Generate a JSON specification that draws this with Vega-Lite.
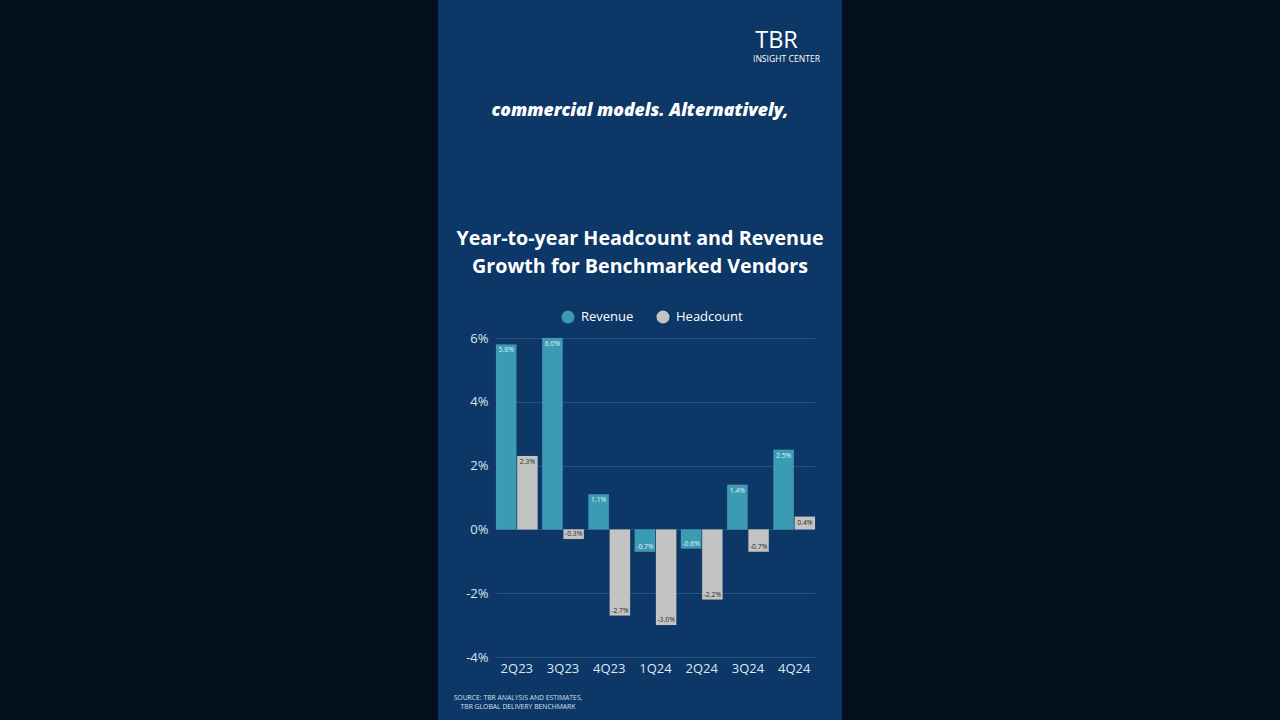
{
  "$schema": "https://vega.github.io/schema/vega-lite/v6.json",
  "width": 404,
  "height": 720,
  "autosize": {"type": "none"},
  "padding": {"left": 438, "top": 0, "right": 438, "bottom": 0},
  "background": "#03101e",
  "view": {"fill": "#0c3766", "stroke": null},
  "config": {
    "font": "Open Sans",
    "locale": {"number": {"decimal": ".", "thousands": ",", "grouping": [3], "currency": ["$", ""], "minus": "-"}}
  },
  "title": {
    "text": "commercial models. Alternatively,",
    "subtitle": ["Year-to-year Headcount and Revenue", "Growth for Benchmarked Vendors"],
    "anchor": "middle",
    "orient": "top",
    "frame": "group",
    "offset": -277,
    "font": "Open Sans",
    "fontSize": 17.6,
    "fontStyle": "italic",
    "fontWeight": 800,
    "color": "#ffffff",
    "subtitleFont": "Open Sans",
    "subtitleFontSize": 19.7,
    "subtitleFontWeight": "bold",
    "subtitleColor": "#ffffff",
    "subtitleLineHeight": 28,
    "subtitlePadding": 110
  },
  "data": {
    "values": [
      {"quarter": "2Q23", "series": "Revenue", "value": 0.058},
      {"quarter": "2Q23", "series": "Headcount", "value": 0.023},
      {"quarter": "3Q23", "series": "Revenue", "value": 0.060},
      {"quarter": "3Q23", "series": "Headcount", "value": -0.003},
      {"quarter": "4Q23", "series": "Revenue", "value": 0.011},
      {"quarter": "4Q23", "series": "Headcount", "value": -0.027},
      {"quarter": "1Q24", "series": "Revenue", "value": -0.007},
      {"quarter": "1Q24", "series": "Headcount", "value": -0.030},
      {"quarter": "2Q24", "series": "Revenue", "value": -0.006},
      {"quarter": "2Q24", "series": "Headcount", "value": -0.022},
      {"quarter": "3Q24", "series": "Revenue", "value": 0.014},
      {"quarter": "3Q24", "series": "Headcount", "value": -0.007},
      {"quarter": "4Q24", "series": "Revenue", "value": 0.025},
      {"quarter": "4Q24", "series": "Headcount", "value": 0.004}
    ]
  },
  "encoding": {
    "x": {
      "field": "quarter",
      "type": "nominal",
      "sort": null,
      "scale": {"range": [58, 377], "paddingInner": 0.1, "paddingOuter": 0},
      "axis": {
        "orient": "bottom",
        "offset": -63,
        "domain": false,
        "ticks": false,
        "grid": false,
        "labelAngle": 0,
        "labelColor": "#dfe7f0",
        "labelFontSize": 13,
        "labelPadding": 5,
        "title": ["SOURCE: TBR ANALYSIS AND ESTIMATES,", "TBR GLOBAL DELIVERY BENCHMARK"],
        "titleX": 79.5,
        "titleY": 37.5,
        "titleAlign": "center",
        "titleBaseline": "top",
        "titleFontSize": 6.8,
        "titleFontWeight": "normal",
        "titleColor": "#d5e0ec",
        "titleLineHeight": 9
      }
    },
    "xOffset": {
      "field": "series",
      "type": "nominal",
      "sort": ["Revenue", "Headcount"],
      "scale": {"domain": ["Revenue", "Headcount"], "paddingInner": 0.04}
    }
  },
  "layer": [
    {
      "mark": {"type": "bar", "stroke": "#ffffff", "strokeOpacity": 0.12, "strokeWidth": 0.6},
      "encoding": {
        "y": {
          "field": "value",
          "type": "quantitative",
          "scale": {"domain": [-0.04, 0.06], "range": [657, 338], "nice": false, "zero": true},
          "axis": {
            "orient": "left",
            "offset": -58,
            "values": [-0.04, -0.02, 0, 0.02, 0.04, 0.06],
            "format": ".0%",
            "grid": true,
            "gridColor": "#24517f",
            "gridWidth": 1,
            "domain": false,
            "ticks": false,
            "labelColor": "#dfe7f0",
            "labelFontSize": 13,
            "labelPadding": 8,
            "title": "TBR",
            "titleAngle": 0,
            "titleX": 280,
            "titleY": 47.5,
            "titleAlign": "center",
            "titleBaseline": "alphabetic",
            "titleFontSize": 23.5,
            "titleFontWeight": "normal",
            "titleColor": "#ffffff"
          }
        },
        "color": {
          "field": "series",
          "type": "nominal",
          "scale": {"domain": ["Revenue", "Headcount"], "range": ["#3a9bb2", "#c3c3c3"]},
          "legend": {
            "title": null,
            "orient": "none",
            "legendX": 123,
            "legendY": 310,
            "direction": "horizontal",
            "symbolType": "circle",
            "symbolSize": 170,
            "symbolStrokeWidth": 0,
            "labelColor": "#ffffff",
            "labelFontSize": 13,
            "labelOffset": 6,
            "columnPadding": 22,
            "padding": 0
          }
        }
      }
    },
    {
      "transform": [{"filter": "datum.value >= 0"}],
      "mark": {"type": "text", "baseline": "top", "dy": 3, "fontSize": 6.8},
      "encoding": {
        "y": {
          "field": "value",
          "type": "quantitative",
          "scale": {"domain": [-0.04, 0.06], "range": [657, 338], "nice": false, "zero": true},
          "axis": {
            "orient": "right",
            "labels": false,
            "ticks": false,
            "domain": false,
            "grid": false,
            "title": "INSIGHT CENTER",
            "titleAngle": 0,
            "titleX": -56,
            "titleY": 61.5,
            "titleAlign": "center",
            "titleBaseline": "alphabetic",
            "titleFontSize": 8.6,
            "titleFontWeight": "normal",
            "titleColor": "#ffffff"
          }
        },
        "text": {"field": "value", "type": "quantitative", "format": ".1%"},
        "color": {"condition": {"test": "datum.series === 'Revenue'", "value": "#e3f4f8"}, "value": "#2a2a2a"}
      }
    },
    {
      "transform": [{"filter": "datum.value < 0"}],
      "mark": {"type": "text", "baseline": "bottom", "dy": -2, "fontSize": 6.8},
      "encoding": {
        "y": {
          "field": "value",
          "type": "quantitative",
          "scale": {"domain": [-0.04, 0.06], "range": [657, 338], "nice": false, "zero": true},
          "axis": null
        },
        "text": {"field": "value", "type": "quantitative", "format": ".1%"},
        "color": {"condition": {"test": "datum.series === 'Revenue'", "value": "#e3f4f8"}, "value": "#2a2a2a"}
      }
    }
  ],
  "resolve": {"axis": {"y": "independent"}}
}
